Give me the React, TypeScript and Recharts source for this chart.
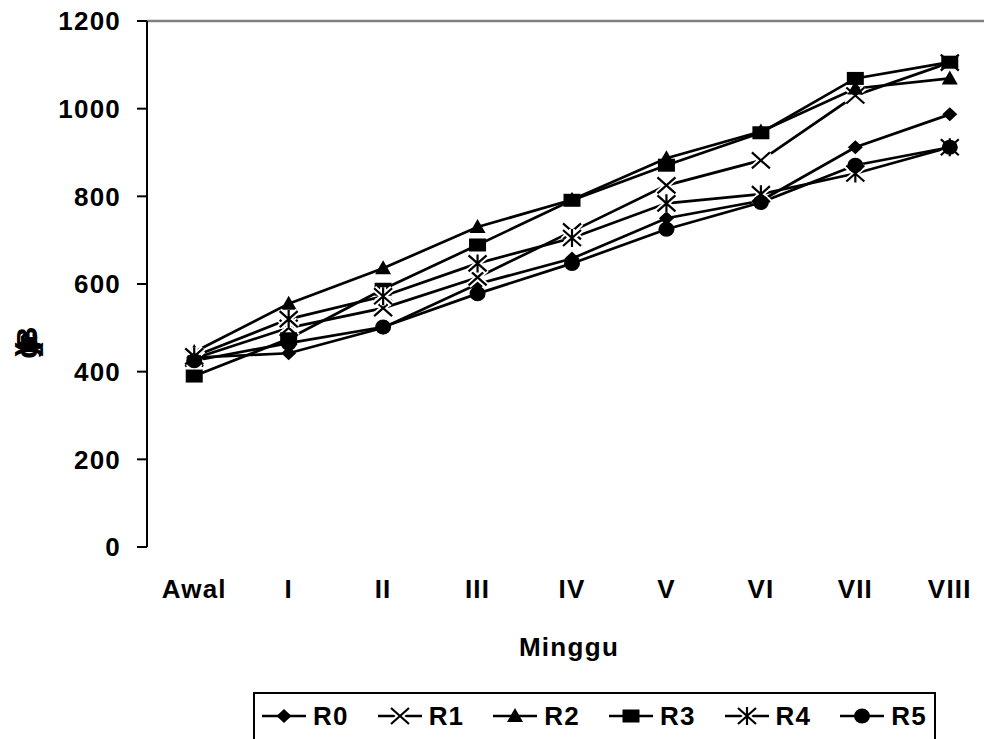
import React from 'react';
import { LineChart, Line, XAxis, YAxis, ReferenceLine, Label } from 'recharts';

const categories = ['Awal', 'I', 'II', 'III', 'IV', 'V', 'VI', 'VII', 'VIII'];
const r0 = [432, 442, 500, 600, 658, 750, 790, 912, 987];
const r1 = [430, 500, 545, 615, 720, 825, 882, 1030, 1105];
const r2 = [445, 555, 636, 730, 792, 887, 948, 1046, 1069];
const r3 = [390, 475, 588, 689, 791, 871, 945, 1069, 1106];
const r4 = [435, 520, 572, 647, 705, 784, 805, 852, 912];
const r5 = [425, 465, 502, 578, 647, 725, 786, 871, 912];
const yTicks = [0, 200, 400, 600, 800, 1000, 1200];
const seriesNames = ['R0', 'R1', 'R2', 'R3', 'R4', 'R5'];
const seriesValues = [r0, r1, r2, r3, r4, r5];
const xTitle = 'Minggu';
const yTitleChars = ['B', 'e', 'r', 'a', 't', '(', 'g', ')'];

type MarkerType = 'diamond' | 'x' | 'triangle' | 'square' | 'star' | 'circle';
const markerOf: Record<string, MarkerType> = {
  R0: 'diamond',
  R1: 'x',
  R2: 'triangle',
  R3: 'square',
  R4: 'star',
  R5: 'circle',
};

const FONT = "'Liberation Sans', Arial, Helvetica, sans-serif";

const data = categories.map((c, i) => {
  const row: Record<string, string | number> = { cat: c };
  seriesNames.forEach((n, k) => {
    row[n] = seriesValues[k][i];
  });
  return row;
});

function Marker({ type, cx, cy }: { type: MarkerType; cx: number; cy: number }) {
  if (cx == null || cy == null) return null;
  switch (type) {
    case 'diamond':
      return (
        <polygon
          points={`${cx},${cy - 7} ${cx + 7.5},${cy} ${cx},${cy + 7} ${cx - 7.5},${cy}`}
          fill="#000"
        />
      );
    case 'triangle':
      return (
        <polygon
          points={`${cx},${cy - 8} ${cx + 8},${cy + 6} ${cx - 8},${cy + 6}`}
          fill="#000"
        />
      );
    case 'square':
      return <rect x={cx - 8.5} y={cy - 6.5} width={17} height={13} fill="#000" />;
    case 'circle':
      return <ellipse cx={cx} cy={cy} rx={8} ry={7.5} fill="#000" />;
    case 'x': {
      const w = 9;
      const h = 8;
      const d = `M${cx - w},${cy - h}L${cx + w},${cy + h}M${cx - w},${cy + h}L${cx + w},${cy - h}`;
      return (
        <g>
          <path d={d} stroke="#fff" strokeWidth={6} fill="none" />
          <path d={d} stroke="#000" strokeWidth={2.2} fill="none" />
        </g>
      );
    }
    case 'star': {
      const w = 9;
      const h = 8;
      const d = `M${cx - w},${cy - h}L${cx + w},${cy + h}M${cx - w},${cy + h}L${cx + w},${cy - h}M${cx},${cy - h - 1}L${cx},${cy + h + 1}`;
      return (
        <g>
          <path d={d} stroke="#fff" strokeWidth={6} fill="none" />
          <path d={d} stroke="#000" strokeWidth={2.2} fill="none" />
        </g>
      );
    }
    default:
      return null;
  }
}

const tickStyle = {
  fill: '#000',
  fontSize: 26,
  fontWeight: 'bold' as const,
  fontFamily: FONT,
  letterSpacing: 1.2,
};

function LegendBox() {
  return (
    <div
      style={{
        position: 'absolute',
        left: 253,
        top: 692,
        width: 683,
        height: 70,
        border: '2px solid #000',
        boxSizing: 'border-box',
        background: '#fff',
        display: 'flex',
        alignItems: 'flex-start',
        paddingTop: 8,
        paddingLeft: 6,
        fontFamily: FONT,
        fontWeight: 'bold',
        fontSize: 26,
        letterSpacing: 1.2,
        color: '#000',
      }}
    >
      {seriesNames.map((n) => (
        <div key={n} style={{ display: 'flex', alignItems: 'center', marginRight: 28 }}>
          <svg width={46} height={28} style={{ display: 'block' }}>
            <line x1={1} y1={14} x2={45} y2={14} stroke="#000" strokeWidth={2.5} />
            <Marker type={markerOf[n]} cx={23} cy={14} />
          </svg>
          <span style={{ marginLeft: 6, lineHeight: '28px' }}>{n}</span>
        </div>
      ))}
    </div>
  );
}

export default function App() {
  const boundaryTicks = Array.from({ length: categories.length + 1 }, (_, i) => i);
  return (
    <div
      style={{
        position: 'absolute',
        left: 0,
        top: 0,
        width: 984,
        height: 739,
        overflow: 'hidden',
        background: '#fff',
      }}
    >
      <LineChart
        width={1000}
        height={739}
        data={data}
        margin={{ top: 21, right: 3, left: 0, bottom: 0 }}
      >
        <XAxis
          xAxisId="grid"
          type="number"
          domain={[0, categories.length]}
          ticks={boundaryTicks}
          tick={false}
          tickSize={10}
          height={0}
          allowDataOverflow
          axisLine={{ stroke: '#000', strokeWidth: 2 }}
          tickLine={{ stroke: '#000', strokeWidth: 2 }}
        />
        <XAxis
          xAxisId="cat"
          dataKey="cat"
          scale="band"
          interval={0}
          axisLine={false}
          tickLine={false}
          tickSize={10}
          tickMargin={23}
          height={192}
          tick={tickStyle}
        >
          <Label
            content={(props: any) => {
              const vb = props.viewBox || {};
              return (
                <text
                  x={vb.x + vb.width / 2 - 3}
                  y={vb.y + 100}
                  textAnchor="middle"
                  dominantBaseline="central"
                  style={{ ...tickStyle, letterSpacing: 1.3 }}
                  fill="#000"
                >
                  {xTitle}
                </text>
              );
            }}
          />
        </XAxis>
        <YAxis
          type="number"
          domain={[0, 1200]}
          ticks={yTicks}
          interval={0}
          width={147}
          tickSize={10}
          tickMargin={16}
          axisLine={{ stroke: '#000', strokeWidth: 2 }}
          tickLine={{ stroke: '#000', strokeWidth: 2 }}
          tick={tickStyle}
        >
          <Label
            content={(props: any) => {
              const vb = props.viewBox || {};
              const x = vb.x + 27;
              const y = vb.y + vb.height * 0.615;
              const offs = [-7, -5, -3, -1, 1, 3, 5, 7];
              return (
                <g>
                  {yTitleChars.map((ch, i) => (
                    <text
                      key={i}
                      x={x}
                      y={y + offs[i]}
                      textAnchor="middle"
                      dominantBaseline="central"
                      transform={`rotate(-90 ${x} ${y + offs[i]})`}
                      style={{ fontFamily: FONT, fontWeight: 'bold', fontSize: 30 }}
                      fill="#000"
                    >
                      {ch}
                    </text>
                  ))}
                </g>
              );
            }}
          />
        </YAxis>
        <ReferenceLine xAxisId="cat" y={1200} stroke="#808080" strokeWidth={2.5} />
        {seriesNames.map((n) => (
          <Line
            key={n}
            xAxisId="cat"
            dataKey={n}
            stroke="#000"
            strokeWidth={2.7}
            isAnimationActive={false}
            activeDot={false}
            dot={(p: any) => (
              <Marker key={`${n}-${p.index}`} type={markerOf[n]} cx={p.cx} cy={p.cy} />
            )}
          />
        ))}
      </LineChart>
      <LegendBox />
    </div>
  );
}
